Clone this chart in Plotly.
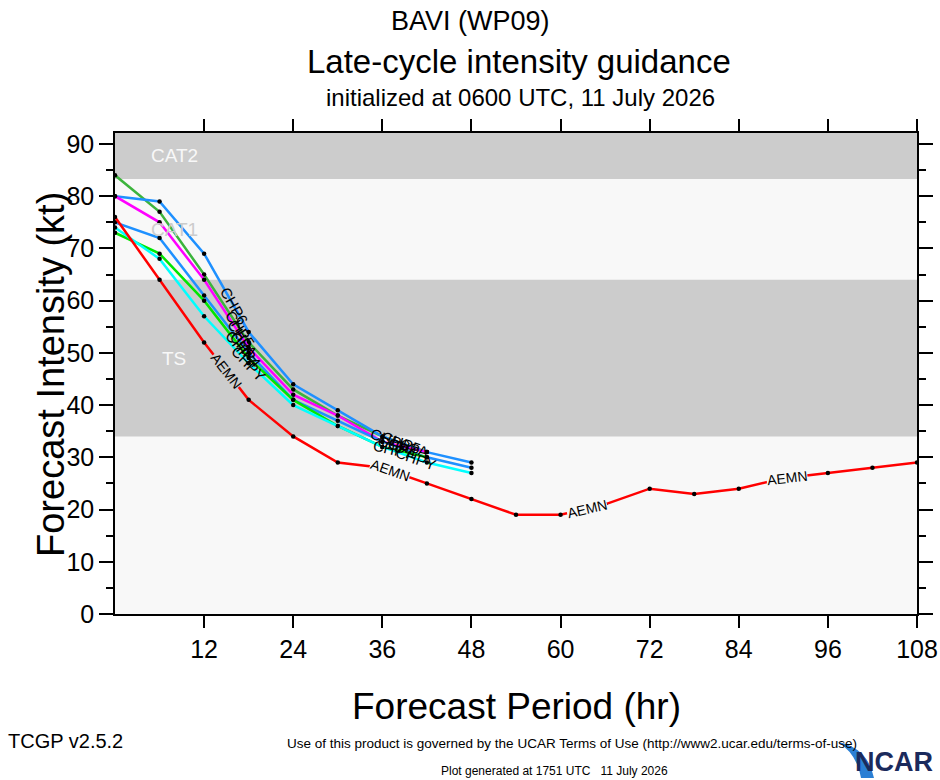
import numpy as np
import plotly.graph_objects as go

# forecast hours / intensities (kt)
hours = [0, 6, 12, 18, 24, 30, 36, 42, 48, 54, 60, 66, 72, 78, 84, 90, 96, 102, 108]
aemn = [76, 64, 52, 41, 34, 29, 28, 25, 22, 19, 19, 21, 24, 23, 24, 26, 27, 28, 29]
chp6 = [80, 79, 69, 54, 44, 39, 34, 31, 29]
chp5 = [84, 77, 65, 52, 43, 38, 34, 31]
chpa = [80, 75, 64, 51, 42, 38, 33, 31]
chp4 = [75, 72, 61, 50, 41, 37, 33, 30, 28]
chp7 = [73, 69, 60, 49, 41, 36, 32, 30]
chpy = [74, 68, 57, 48, 40, 36, 32, 29, 27]

guidance = [
    ('CHP5', chp5, '#3cb43c', 16.8, 38.5),
    ('CHP6', chp6, '#1e90ff', 16.0, 37.0),
    ('CHPA', chpa, '#ff00ff', 17.2, 39.5),
    ('CHP4', chp4, '#1e90ff', 17.6, 38.0),
    ('CHP7', chp7, '#00e600', 17.0, 37.5),
    ('CHPY', chpy, '#00ffff', 18.0, 40.5),
]
aemn_label_hr = [15, 37, 63.5, 90.5]

# intensity bands: (label, low, high, fill, text colour)
bands = [('CAT2', 83.3, 92.1, '#cccccc', '#f8f8f8'),
         ('CAT1', 64, 83.3, '#f8f8f8', '#cccccc'),
         ('TS', 34, 64, '#cccccc', '#f8f8f8')]

W, H = 940, 780
PL, PR, PT, PB = 115, 917, 133, 614          # plot box in page pixels
XMAX, YMAX = 108, 92.1
kx = (PR - PL) / XMAX
ky = (PB - PT) / YMAX
FONT = 'Liberation Sans, Arial, Helvetica, sans-serif'


def px(x, y):
    # page pixel -> paper coords
    return (x - PL) / (PR - PL), (PB - y) / (PB - PT)


def angle(hrs, vals, h):
    i = max(0, min(len(hrs) - 2, int(np.searchsorted(hrs, h)) - 1))
    dv = (vals[i + 1] - vals[i]) * ky
    dh = (hrs[i + 1] - hrs[i]) * kx
    return -np.degrees(np.arctan2(dv, dh))


fig = go.Figure()

for name, lo, hi, fill, tc in bands:
    fig.add_shape(type='rect', xref='paper', yref='y', x0=0, x1=1, y0=lo, y1=hi,
                  fillcolor=fill, line_width=0, layer='below')

for name, vals, col, h1, h2 in guidance:
    fig.add_trace(go.Scatter(x=hours[:len(vals)], y=vals, mode='lines+markers', name=name,
                             line=dict(color=col, width=2.5),
                             marker=dict(color='black', size=4.5)))

fig.add_trace(go.Scatter(x=hours, y=aemn, mode='lines+markers', name='AEMN',
                         line=dict(color='#ff0000', width=2.5),
                         marker=dict(color='black', size=4.5)))

ann = []
for name, lo, hi, fill, tc in bands:
    ann.append(dict(x=8, y=(lo + hi) / 2, xref='x', yref='y', text=name, showarrow=False,
                    font=dict(family=FONT, size=19, color=tc)))

for name, vals, col, h1, h2 in guidance:
    hrs = hours[:len(vals)]
    for h in (h1, h2):
        ann.append(dict(x=h, y=float(np.interp(h, hrs, vals)), xref='x', yref='y', text=name,
                        showarrow=False, textangle=angle(hrs, vals, h),
                        font=dict(family=FONT, size=15, color='black')))

for h in aemn_label_hr:
    v = float(np.interp(h, hours, aemn))
    bg = '#cccccc' if 34 <= v <= 64 else '#f8f8f8'
    ann.append(dict(x=h, y=v, xref='x', yref='y', text='AEMN', showarrow=False,
                    textangle=angle(hours, aemn, h), bgcolor=bg, borderpad=0,
                    font=dict(family=FONT, size=14, color='black')))


def page_text(x, y, text, size, color='black', xanchor='center'):
    xp, yp = px(x, y)
    ann.append(dict(x=xp, y=yp, xref='paper', yref='paper', text=text, showarrow=False,
                    xanchor=xanchor, yanchor='middle',
                    font=dict(family=FONT, size=size, color=color)))


page_text(470, 21, 'BAVI (WP09)', 27)
page_text(519, 61, 'Late-cycle intensity guidance', 33)
page_text(520, 97, 'initialized at 0600 UTC, 11 July 2026', 24)
page_text(516, 706, 'Forecast Period (hr)', 37)
page_text(572, 743, 'Use of this product is governed by the UCAR Terms of Use (http://www2.ucar.edu/terms-of-use)', 13.5)
page_text(6, 741, 'TCGP v2.5.2', 20, xanchor='left')
page_text(554, 771, 'Plot generated at 1751 UTC   11 July 2026', 12)
page_text(935, 762, '<b>NCAR</b>', 27, color='#1b2a5c', xanchor='right')

xt, yt = px(28, 375)
ann.append(dict(x=xt, y=yt, xref='paper', yref='paper', text='Forecast Intensity (kt)',
                showarrow=False, textangle=-90, font=dict(family=FONT, size=38, color='black')))

# blue swoosh of the logo
a = px(838, 742)
c1 = px(868, 748)
e1 = px(874, 778)
e2 = px(861, 778)
c2 = px(857, 754)
fig.add_shape(type='path', xref='paper', yref='paper',
              path=f'M {a[0]} {a[1]} Q {c1[0]} {c1[1]} {e1[0]} {e1[1]} L {e2[0]} {e2[1]} '
                   f'Q {c2[0]} {c2[1]} {a[0]} {a[1]} Z',
              fillcolor='#2a7fd4', line_width=0)

axis_common = dict(showline=True, linecolor='black', linewidth=1.6, mirror='allticks',
                   ticks='outside', tickcolor='black', tickwidth=1.6, showgrid=False,
                   zeroline=False, tickfont=dict(family=FONT, size=25, color='black'))

fig.update_layout(
    width=W, height=H, margin=dict(l=PL, r=W - PR, t=PT, b=H - PB, autoexpand=False),
    paper_bgcolor='white', plot_bgcolor='#f8f8f8', showlegend=False,
    xaxis=dict(range=[0, XMAX], tickvals=list(range(12, 109, 12)), ticklen=12, **axis_common),
    yaxis=dict(range=[0, YMAX], tickvals=list(range(0, 91, 10)), ticklen=14,
               minor=dict(dtick=5, ticks='outside', ticklen=7, tickcolor='black', tickwidth=1.6),
               **axis_common),
    annotations=ann,
)

# drop the browser's default 8px body margin so the figure fills the window
fig.write_html('out.html', config={'displayModeBar': False},
               post_script="document.body.style.margin='0px';")
